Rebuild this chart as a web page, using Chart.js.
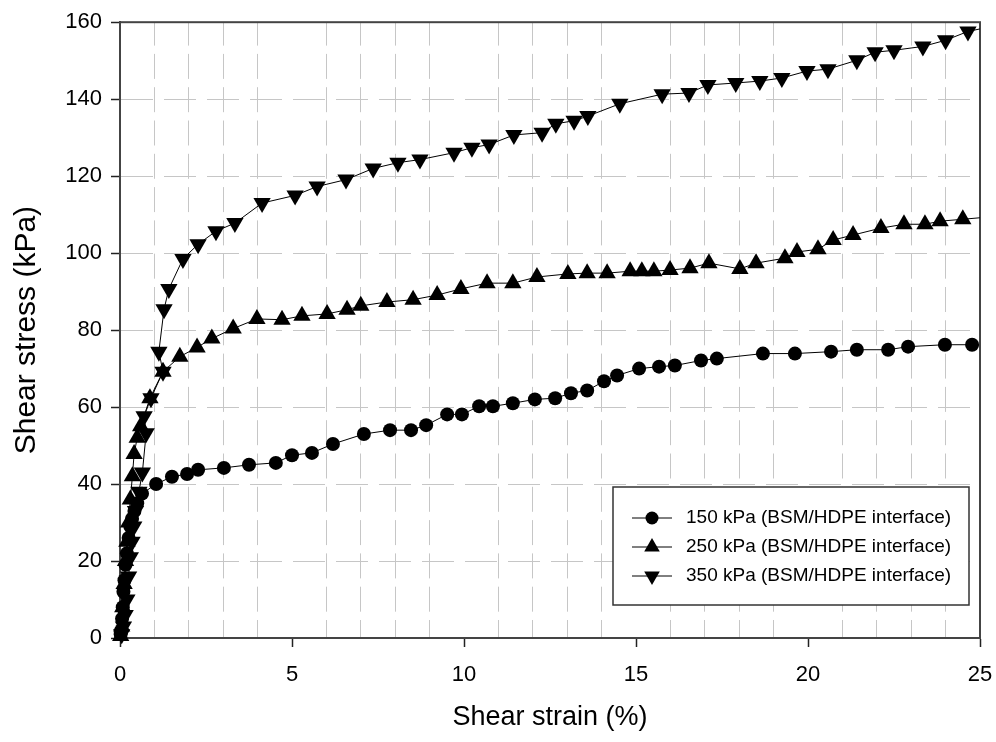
<!DOCTYPE html>
<html>
<head>
<meta charset="utf-8">
<script src="https://cdn.jsdelivr.net/npm/chart.js@4"></script>
<style>
  html, body { margin: 0; padding: 0; background: #fff; }
  canvas { display: block; }
</style>
</head>
<body>
<canvas id="chart" width="996" height="742"></canvas>
<script>
// values
const strain150 = [0.02, 0.04, 0.06, 0.08, 0.1, 0.13, 0.16, 0.2, 0.25, 0.3, 0.35, 0.42, 0.5, 0.64, 1.05, 1.51, 1.95, 2.27, 3.02, 3.75, 4.53, 5.0, 5.58, 6.19, 7.09, 7.85, 8.46, 8.9, 9.51, 9.94, 10.44, 10.84, 11.42, 12.06, 12.65, 13.11, 13.58, 14.07, 14.45, 15.09, 15.67, 16.13, 16.89, 17.35, 18.69, 19.62, 20.67, 21.42, 22.33, 22.91, 23.98, 24.77]
const stress150 = [1, 2, 5, 8, 12, 15, 19, 22, 26, 29, 31, 33, 35, 37.5, 40, 41.9, 42.6, 43.7, 44.2, 45, 45.5, 47.5, 48.1, 50.4, 53, 54, 54, 55.3, 58.1, 58.1, 60.2, 60.2, 61, 62, 62.3, 63.6, 64.3, 66.7, 68.2, 70, 70.5, 70.8, 72.1, 72.6, 73.9, 73.9, 74.4, 74.9, 74.9, 75.7, 76.2, 76.2]

const strain250 = [0.02, 0.05, 0.08, 0.12, 0.16, 0.2, 0.25, 0.3, 0.36, 0.41, 0.5, 0.6, 0.87, 1.25, 1.74, 2.24, 2.67, 3.29, 3.98, 4.71, 5.29, 6.02, 6.6, 7.0, 7.76, 8.52, 9.22, 9.91, 10.67, 11.42, 12.12, 13.02, 13.58, 14.16, 14.83, 15.17, 15.52, 15.99, 16.57, 17.12, 18.02, 18.49, 19.33, 19.68, 20.29, 20.73, 21.31, 22.12, 22.79, 23.4, 23.84, 24.5, 25.4]
const stress250 = [0.5, 3, 8, 14, 20, 25, 30, 36, 42, 47.8, 52, 55, 62.3, 69.2, 73.1, 75.5, 77.8, 80.4, 82.9, 82.7, 83.7, 84.2, 85.3, 86.3, 87.3, 87.9, 89.1, 90.7, 92.2, 92.2, 93.8, 94.6, 94.8, 94.8, 95.3, 95.3, 95.3, 95.6, 96.1, 97.4, 95.9, 97.4, 98.7, 100.3, 101, 103.4, 104.7, 106.5, 107.5, 107.5, 108.3, 108.8, 109.5]

const strain350 = [0.05, 0.1, 0.15, 0.2, 0.25, 0.3, 0.35, 0.4, 0.45, 0.55, 0.65, 0.76, 0.7, 0.9, 1.25, 1.13, 1.28, 1.42, 1.83, 2.27, 2.79, 3.34, 4.13, 5.09, 5.73, 6.57, 7.36, 8.08, 8.72, 9.71, 10.23, 10.73, 11.45, 12.27, 12.67, 13.2, 13.6, 14.53, 15.76, 16.54, 17.09, 17.9, 18.6, 19.24, 19.97, 20.58, 21.42, 21.95, 22.5, 23.34, 24.0, 24.65, 25.4]
const stress350 = [1, 3, 6, 10, 16, 21, 25, 29, 33, 38, 43, 53.2, 57.6, 62.3, 69.2, 74.4, 85.4, 90.7, 98.5, 102.3, 105.7, 107.8, 113, 115, 117.3, 119.1, 122, 123.5, 124.3, 126.1, 127.4, 128.2, 130.7, 131.3, 133.6, 134.4, 135.6, 138.8, 141.3, 141.6, 143.7, 144.2, 144.7, 145.5, 147.3, 147.8, 150.1, 152.2, 152.7, 153.7, 155.3, 157.6, 159]

const seriesLabels = ['150 kPa (BSM/HDPE interface)', '250 kPa (BSM/HDPE interface)', '350 kPa (BSM/HDPE interface)']
const xTickLabels = [0, 5, 10, 15, 20, 25]
const yTickLabels = [0, 20, 40, 60, 80, 100, 120, 140, 160]

const FONT = "'Liberation Sans', Arial, sans-serif"
const GRID = '#c6c6c6'
const CLEAR = 'rgba(0,0,0,0)'

const toPoints = (xs, ys) => xs.map((x, i) => ({ x, y: ys[i] }))

const series = (label, xs, ys, style, rot, r) => ({
  label,
  data: toPoints(xs, ys),
  showLine: true,
  borderColor: '#000',
  borderWidth: 1,
  backgroundColor: '#000',
  pointStyle: style,
  rotation: rot,
  pointRadius: r,
  pointBorderWidth: 0,
  pointHoverRadius: r,
  tension: 0,
  clip: { left: 12, top: 12, right: 0, bottom: 12 }
})

// legend box drawn inside the plot, like the original
const insideLegend = {
  id: 'insideLegend',
  afterDatasetsDraw(chart) {
    const { ctx, chartArea: a } = chart
    const bx = a.right - 367, by = a.bottom - 151, bw = 356, bh = 118
    ctx.save()
    ctx.fillStyle = '#fff'
    ctx.fillRect(bx, by, bw, bh)
    ctx.strokeStyle = '#333'
    ctx.lineWidth = 1.5
    ctx.strokeRect(bx, by, bw, bh)
    ctx.font = '19px ' + FONT
    ctx.textBaseline = 'middle'
    chart.data.datasets.forEach((ds, i) => {
      const y = by + 31 + i * 29
      const mx = bx + 39
      ctx.strokeStyle = '#000'
      ctx.lineWidth = 1
      ctx.beginPath()
      ctx.moveTo(bx + 19, y)
      ctx.lineTo(bx + 59, y)
      ctx.stroke()
      ctx.fillStyle = '#000'
      ctx.beginPath()
      if (ds.pointStyle === 'circle') {
        ctx.arc(mx, y, 6.5, 0, Math.PI * 2)
      } else {
        const r = 9
        const s = ds.rotation === 180 ? -1 : 1
        ctx.moveTo(mx, y - s * r)
        ctx.lineTo(mx + r * 0.866, y + s * r * 0.5)
        ctx.lineTo(mx - r * 0.866, y + s * r * 0.5)
        ctx.closePath()
      }
      ctx.fill()
      ctx.fillText(ds.label, bx + 73, y)
    })
    ctx.restore()
  }
}

const frame = {
  id: 'frame',
  beforeDatasetsDraw(chart) {
    const { ctx, chartArea: a } = chart
    ctx.save()
    ctx.strokeStyle = '#444'
    ctx.lineWidth = 2
    ctx.strokeRect(a.left, a.top, a.right - a.left, a.bottom - a.top)
    ctx.restore()
  }
}

new Chart(document.getElementById('chart'), {
  type: 'scatter',
  data: {
    datasets: [
      series(seriesLabels[0], strain150, stress150, 'circle', 0, 7),
      series(seriesLabels[1], strain250, stress250, 'triangle', 0, 10),
      series(seriesLabels[2], strain350, stress350, 'triangle', 180, 10)
    ]
  },
  options: {
    responsive: false,
    animation: false,
    devicePixelRatio: 1,
    layout: { padding: { left: 0, right: 16, top: 19, bottom: 0 } },
    plugins: {
      legend: { display: false },
      tooltip: { enabled: false }
    },
    scales: {
      x: {
        type: 'linear',
        min: 0,
        max: 25,
        afterFit: s => {
          s.height = 104
          s.paddingLeft = 0
          s.paddingRight = 0
        },
        ticks: {
          stepSize: 1,
          autoSkip: false,
          maxRotation: 0,
          padding: 15,
          color: '#000',
          font: { family: FONT, size: 22 },
          callback: v => xTickLabels.includes(v) ? v : ''
        },
        grid: {
          color: c => (c.tick && c.tick.value % 5 === 0) ? CLEAR : GRID,
          tickColor: c => (c.tick && c.tick.value % 5 === 0) ? '#222' : CLEAR,
          tickLength: 9,
          tickWidth: 1.5,
          lineWidth: 1
        },
        border: { display: true, color: '#333', width: 2, dash: [25, 8.3], dashOffset: 1.6 },
        title: {
          display: true,
          text: 'Shear strain (%)',
          color: '#000',
          font: { family: FONT, size: 27 },
          padding: { top: 0, bottom: 8 }
        }
      },
      y: {
        min: 0,
        max: 160,
        afterFit: s => { s.width = 120 },
        ticks: {
          stepSize: 20,
          padding: 9,
          color: '#000',
          font: { family: FONT, size: 22 },
          callback: v => yTickLabels.includes(v) ? v : ''
        },
        grid: {
          color: c => (c.tick && (c.tick.value === 0 || c.tick.value === 160)) ? CLEAR : GRID,
          tickColor: '#222',
          tickLength: 9,
          tickWidth: 1.5,
          lineWidth: 1
        },
        border: { display: true, color: '#333', width: 2, dash: [32, 11] },
        title: {
          display: true,
          text: 'Shear stress (kPa)',
          color: '#000',
          font: { family: FONT, size: 30 },
          padding: { top: 9, bottom: 0 }
        }
      }
    }
  },
  plugins: [frame, insideLegend]
})
</script>
</body>
</html>
